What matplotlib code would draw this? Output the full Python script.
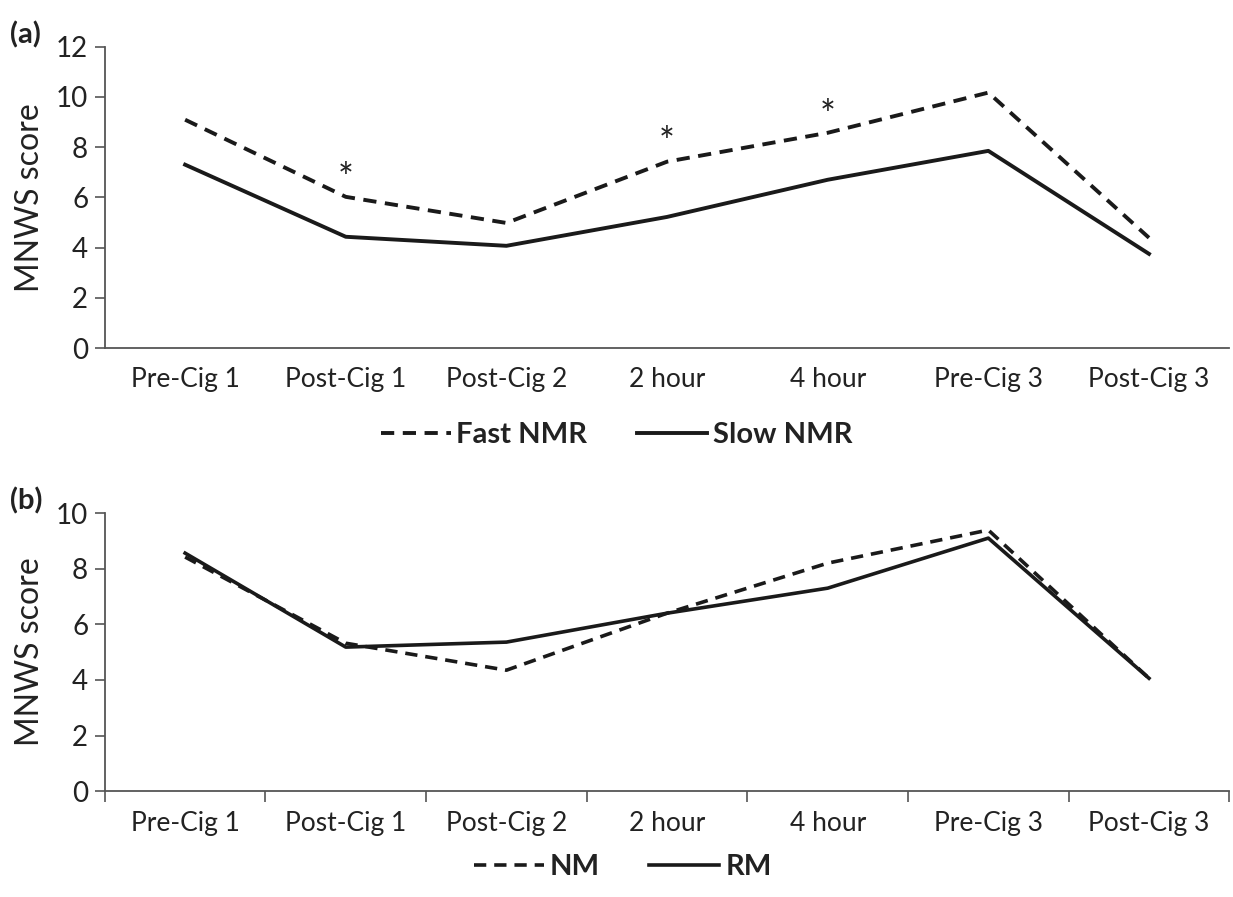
import numpy as np
import matplotlib.pyplot as plt

plt.rcParams['font.family'] = ['Lato', 'DejaVu Sans']

timepoints = ['Pre-Cig 1', 'Post-Cig 1', 'Post-Cig 2', '2 hour', '4 hour', 'Pre-Cig 3', 'Post-Cig 3']

# panel (a)
fast_nmr = [9.09, 6.02, 4.98, 7.42, 8.57, 10.17, 4.39]
slow_nmr = [7.30, 4.43, 4.07, 5.22, 6.70, 7.85, 3.75]
star_idx = [1, 3, 4]
star_y = [6.27, 7.67, 8.77]

# panel (b)
nm = [8.42, 5.32, 4.35, 6.40, 8.20, 9.39, 4.06]
rm = [8.56, 5.18, 5.36, 6.40, 7.30, 9.10, 4.06]

x = np.arange(len(timepoints))
txt = '#222222'
spine_col = '#555555'

fig = plt.figure(figsize=(12.33, 8.97), dpi=100)
ax1 = fig.add_axes([0.085, 0.612, 0.912, 0.336])
ax2 = fig.add_axes([0.085, 0.118, 0.912, 0.310])


def style(ax, ymax, step, xticks_between):
    ax.set_xlim(-0.5, len(timepoints) - 0.5)
    ax.set_ylim(0, ymax)
    ax.set_yticks(np.arange(0, ymax + 0.1, step))
    ax.set_xticks(x)
    ax.set_xticklabels(timepoints, fontsize=19, color=txt)
    ax.tick_params(axis='y', labelsize=20, colors=spine_col, labelcolor=txt,
                   length=7, width=1.2, pad=5)
    ax.tick_params(axis='x', length=0, pad=14)
    if xticks_between:
        ax.set_xticks(np.arange(-0.5, len(timepoints)), minor=True)
        ax.tick_params(axis='x', which='minor', length=8, width=1.2, colors=spine_col)
    for s in ['top', 'right']:
        ax.spines[s].set_visible(False)
    for s in ['left', 'bottom']:
        ax.spines[s].set_color(spine_col)
        ax.spines[s].set_linewidth(1.3)
    ax.set_ylabel('MNWS score', fontsize=23, color=txt, labelpad=8)


# (a)
la1, = ax1.plot(x, fast_nmr, color='#1a1a1a', lw=2.8, dashes=(3.4, 2.2), label='Fast NMR')
la2, = ax1.plot(x, slow_nmr, color='#1a1a1a', lw=2.8, label='Slow NMR')
for i, yv in zip(star_idx, star_y):
    ax1.text(x[i], yv, '*', fontsize=27, ha='center', va='baseline', color=txt)
style(ax1, 12, 2, False)
fig.text(0.008, 0.952, '(a)', fontsize=21, fontweight='bold', color=txt)
fig.legend(handles=[la1, la2], loc='center', bbox_to_anchor=(0.5, 0.515), ncol=2,
           frameon=False, prop={'weight': 'bold', 'size': 21}, handlelength=2.4,
           handletextpad=0.2, columnspacing=1.7, labelcolor=txt)

# (b)
lb1, = ax2.plot(x, nm, color='#1a1a1a', lw=2.6, dashes=(3.4, 2.2), label='NM')
lb2, = ax2.plot(x, rm, color='#1a1a1a', lw=2.6, label='RM')
style(ax2, 10, 2, True)
fig.text(0.008, 0.432, '(b)', fontsize=21, fontweight='bold', color=txt)
fig.legend(handles=[lb1, lb2], loc='center', bbox_to_anchor=(0.505, 0.033), ncol=2,
           frameon=False, prop={'weight': 'bold', 'size': 21}, handlelength=2.4,
           handletextpad=0.2, columnspacing=1.7, labelcolor=txt)

fig.savefig('out.png', dpi=100)
